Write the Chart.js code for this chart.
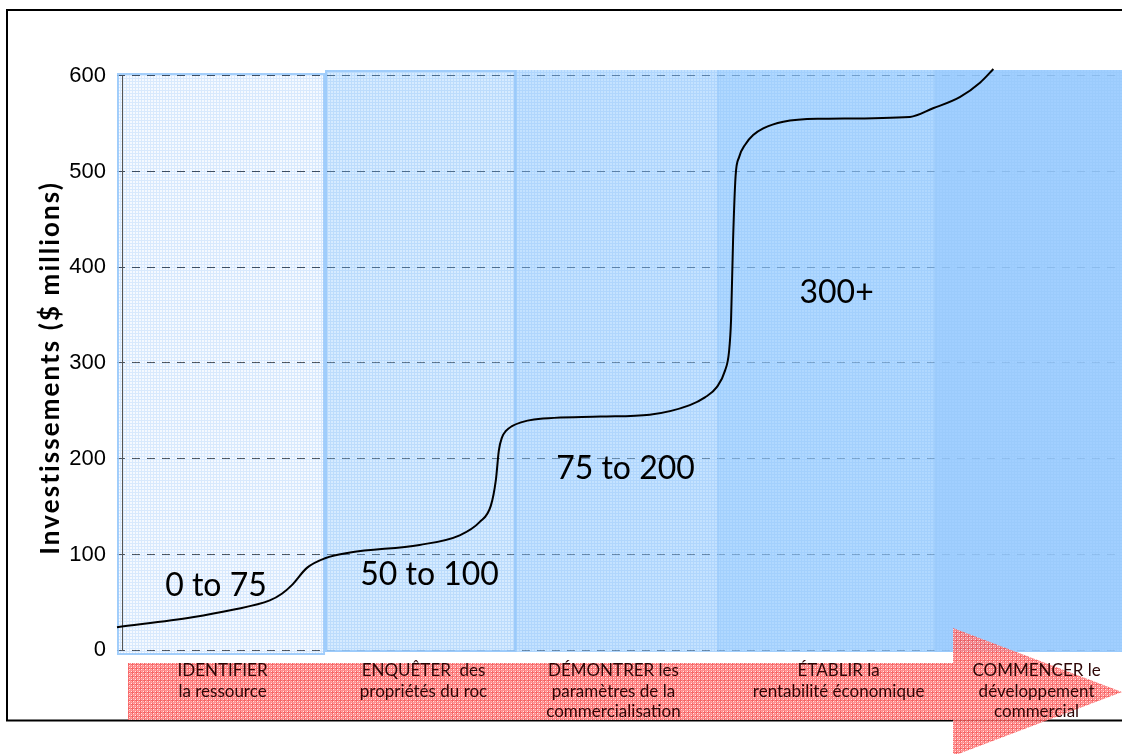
<!DOCTYPE html>
<html>
<head>
<meta charset="utf-8">
<script src="https://cdn.jsdelivr.net/npm/chart.js@4/dist/chart.umd.min.js"></script>
<style>
  html, body { margin: 0; padding: 0; background: #fff; }
  #wrap { width: 1122px; height: 754px; position: relative; }
</style>
</head>
<body>
<div id="wrap"><canvas id="c" width="1122" height="754"></canvas></div>
<script>
// Cumulative investment along the development path (progress 0–100, $ millions)
const progress   = [0, 7.5, 11.4, 15.2, 16.4, 17.4, 18.9, 20.7, 23.2, 30.1, 34.1, 36.1, 37.2, 37.7, 38.0, 38.3, 38.7, 39.3, 40.2, 41.5, 48.1, 53.0, 57.0, 58.5, 59.7, 60.5, 60.9, 61.1, 61.3, 61.55, 61.9, 62.5, 63.3, 64.3, 66.3, 69.7, 78.9, 81.2, 83.9, 85.9, 87.2];
const investment = [24, 34.5, 42, 52, 59, 68, 86, 96, 102, 110, 120, 134, 151, 178, 209, 222, 229, 234, 238, 241, 244, 246, 256, 264, 275, 292, 312, 345, 428, 495, 515, 528, 538, 545, 552, 555, 557, 566, 578, 593, 607];

// Development stages: extent on the progress axis
const stageStart = [0, 20.7, 39.7, 59.8, 81.4];
const stageEnd   = [20.7, 39.7, 59.8, 81.4, 100];
const stageNames = [
  ["IDENTIFIER", "la ressource"],
  ["ENQUÊTER  des", "propriétés du roc"],
  ["DÉMONTRER les", "paramètres de la", "commercialisation"],
  ["ÉTABLIR la", "rentabilité économique"],
  ["COMMENCER le", "développement", "commercial"]
];

// Investment ranges written on the chart, with their anchor (progress, $M)
const rangeLabels = ["0 to 75", "50 to 100", "75 to 200", "300+"];
const rangeAtX    = [9.85, 31.1, 50.6, 71.6];
const rangeAtY    = [67, 79.4, 190, 373];

const yTicks = [0, 100, 200, 300, 400, 500, 600];
const yTitle = "Investissements ($ millions)";

const canvas = document.getElementById('c');
const ctx = canvas.getContext('2d');

// Band fills: a fine 3px grid texture, semi-transparent so the dashed grid shows through
function solveOnWhite(target, a) {
  return target.map(v => Math.max(0, Math.round(255 - (255 - v) / a)));
}
function gridPattern(bg, line, a, size) {
  const c = document.createElement('canvas');
  c.width = size; c.height = size;
  const g = c.getContext('2d');
  const b = solveOnWhite(bg, a), l = solveOnWhite(line, a);
  g.fillStyle = `rgba(${b[0]},${b[1]},${b[2]},${a})`;
  g.fillRect(0, 0, size, size);
  g.clearRect(0, 0, size, 1);
  g.clearRect(0, 1, 1, size - 1);
  g.fillStyle = `rgba(${l[0]},${l[1]},${l[2]},${a})`;
  g.fillRect(0, 0, size, 1);
  g.fillRect(0, 1, 1, size - 1);
  return ctx.createPattern(c, 'repeat');
}
const bandFills = [
  gridPattern([245, 249, 255], [216, 233, 253], 0.30, 3),
  gridPattern([214, 235, 255], [188, 220, 252], 0.50, 3),
  gridPattern([196, 226, 255], [176, 214, 253], 0.62, 3),
  gridPattern([176, 216, 255], [163, 208, 253], 0.78, 3),
  gridPattern([161, 207, 255], [155, 203, 252], 0.93, 3)
];

// Red plaid texture for the process arrow
function plaid() {
  const c = document.createElement('canvas');
  c.width = 4; c.height = 4;
  const g = c.getContext('2d');
  g.fillStyle = '#ffa8a8'; g.fillRect(0, 0, 4, 4);
  g.fillStyle = '#f55252'; g.fillRect(0, 0, 4, 1); g.fillRect(0, 0, 1, 4);
  g.fillStyle = '#ff7e7e'; g.fillRect(2, 0, 1, 4); g.fillRect(0, 2, 4, 1);
  g.fillStyle = '#ffe4e4'; g.fillRect(3, 3, 1, 1); g.fillRect(1, 1, 1, 1);
  return ctx.createPattern(c, 'repeat');
}
const arrowFill = plaid();

const decor = {
  id: 'decor',
  beforeDraw(chart) {
    const g = chart.ctx;
    g.save();
    g.fillStyle = '#fff';
    g.fillRect(0, 0, chart.width, chart.height);
    // outer frame (open on the right)
    g.strokeStyle = '#000';
    g.lineWidth = 2;
    g.beginPath();
    g.moveTo(chart.width, 10); g.lineTo(7, 10); g.lineTo(7, 720.5); g.lineTo(chart.width, 720.5);
    g.stroke();
    g.restore();
  },
  beforeDatasetsDraw(chart) {
    const g = chart.ctx, xs = chart.scales.x, ys = chart.scales.y, area = chart.chartArea;
    g.save();
    stageStart.forEach((s, i) => {
      const x0 = xs.getPixelForValue(s), x1 = xs.getPixelForValue(stageEnd[i]);
      const top = i === 0 ? area.top + 3 : area.top;
      const bot = i === 0 ? area.bottom : area.bottom - 3;
      g.fillStyle = bandFills[i];
      g.fillRect(x0, top, x1 - x0, bot - top);
      if (i < 2) {
        g.strokeStyle = 'rgba(150,200,250,0.85)';
        g.lineWidth = 2;
        g.strokeRect(x0 + 1, top + 1, x1 - x0 - 2, bot - top - 2);
      } else {
        g.strokeStyle = 'rgba(150,200,250,0.5)';
        g.lineWidth = 2;
        g.beginPath(); g.moveTo(x0, top); g.lineTo(x0, bot); g.stroke();
      }
    });
    // vertical value axis
    const ax = Math.round(xs.getPixelForValue(0.5)) + 0.5;
    g.strokeStyle = '#555';
    g.lineWidth = 1;
    g.beginPath();
    g.moveTo(ax, ys.getPixelForValue(600));
    g.lineTo(ax, ys.getPixelForValue(0));
    g.stroke();
    g.restore();
  },
  afterDraw(chart) {
    const g = chart.ctx, xs = chart.scales.x, ys = chart.scales.y;
    g.save();

    // process arrow along the bottom
    const bodyTop = 663, bodyBot = 720, headTop = 628, headBot = 756;
    const bodyLeft = 128, headBase = 953, tip = chart.width, mid = (bodyTop + bodyBot) / 2 + 0.5;
    g.globalAlpha = 0.88;
    g.fillStyle = arrowFill;
    g.beginPath();
    g.moveTo(bodyLeft, bodyTop);
    g.lineTo(headBase, bodyTop);
    g.lineTo(headBase, headTop);
    g.lineTo(tip, mid);
    g.lineTo(headBase, headBot);
    g.lineTo(headBase, bodyBot);
    g.lineTo(bodyLeft, bodyBot);
    g.closePath();
    g.fill();
    g.globalAlpha = 1;

    // stage captions inside the arrow
    const captionX = [10.5, 30.5, 49.4, 71.8, 91.5];
    g.fillStyle = '#2e0606';
    g.font = '17px Lato, "Open Sans", sans-serif';
    g.textAlign = 'center';
    g.textBaseline = 'middle';
    stageNames.forEach((lines, i) => {
      const cx = xs.getPixelForValue(captionX[i]);
      lines.forEach((t, k) => g.fillText(t, cx, 671 + k * 20.5));
    });

    // investment ranges
    g.fillStyle = '#000';
    g.font = '32px Lato, "Open Sans", sans-serif';
    rangeLabels.forEach((t, i) => {
      g.fillText(t, xs.getPixelForValue(rangeAtX[i]), ys.getPixelForValue(rangeAtY[i]));
    });

    // rotated, letter-spaced axis title
    g.font = 'bold 26px Lato, "Open Sans", sans-serif';
    g.letterSpacing = '0px';
    const plain = g.measureText(yTitle).width;
    const spacing = Math.max(0, (374 - plain) / yTitle.length);
    g.letterSpacing = spacing.toFixed(2) + 'px';
    g.translate(51, (ys.getPixelForValue(600) + ys.getPixelForValue(0)) / 2 + 6);
    g.rotate(-Math.PI / 2);
    g.textAlign = 'center';
    g.textBaseline = 'middle';
    g.fillText(yTitle, spacing / 2, 0);
    g.restore();
  }
};

new Chart(ctx, {
  type: 'line',
  data: {
    datasets: [{
      data: progress.map((x, i) => ({ x, y: investment[i] })),
      borderColor: '#000',
      borderWidth: 2,
      pointRadius: 0,
      fill: false,
      cubicInterpolationMode: 'monotone',
      clip: false
    }]
  },
  options: {
    responsive: false,
    animation: false,
    events: [],
    layout: { padding: { left: 67, right: 0, top: 70, bottom: 99 } },
    plugins: { legend: { display: false }, tooltip: { enabled: false } },
    scales: {
      x: { type: 'linear', min: 0, max: 100, display: false },
      y: {
        min: -5,
        max: 606,
        afterBuildTicks: s => { s.ticks = yTicks.map(v => ({ value: v })); },
        afterFit: s => { s.width = 50; },
        grid: { color: '#222', lineWidth: 1, drawTicks: false },
        border: { display: false, dash: [8, 7] },
        ticks: {
          padding: 11,
          color: '#000',
          font: { family: '"Liberation Sans", Arial, sans-serif', size: 22 }
        }
      }
    }
  },
  plugins: [decor]
});
</script>
</body>
</html>
